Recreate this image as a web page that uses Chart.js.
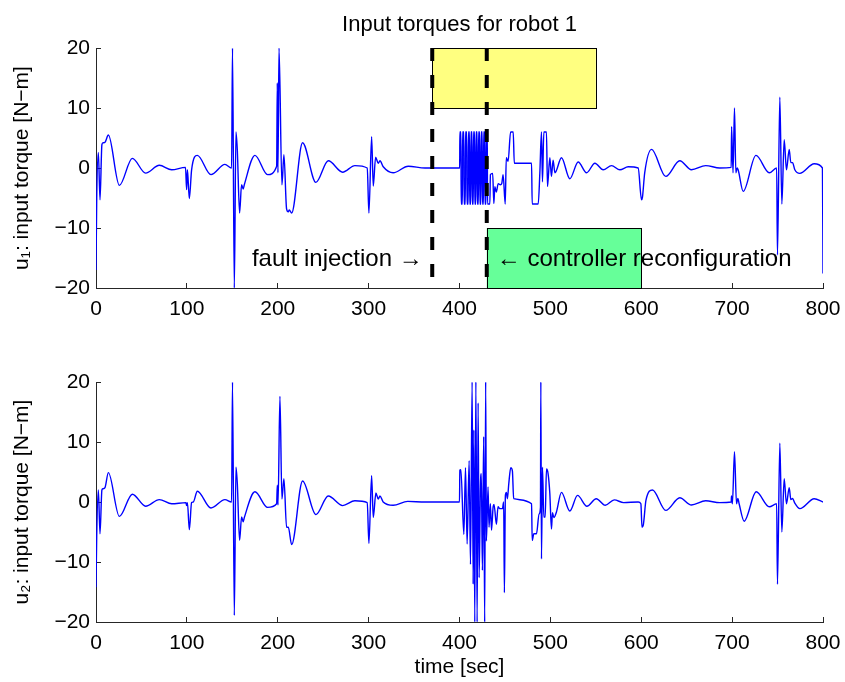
<!DOCTYPE html>
<html>
<head>
<meta charset="utf-8">
<title>Input torques for robot 1</title>
<script src="https://cdn.jsdelivr.net/npm/chart.js@4.4.1/dist/chart.umd.min.js"></script>
<style>
  html, body { margin: 0; padding: 0; background: #fff; }
  #wrap { position: relative; width: 845px; height: 682px; }
  #robot-top { position: absolute; left: 0; top: 0; }
  #robot-bottom { position: absolute; left: 0; top: 340px; }
</style>
</head>
<body>
<div id="wrap">
  <canvas id="robot-top" width="845" height="340"></canvas>
  <canvas id="robot-bottom" width="845" height="342"></canvas>
</div>
<script>
// u1 samples
const t1 = [0, 0.8, 2.6, 4.4, 6.5, 7.6, 9.9, 13.6, 25.7, 40, 54.6, 69.7, 83.3, 98.5, 99.7, 100.6, 102.7, 105.2,
  111.5, 126.5, 141.9, 149.2, 150.2, 152.2, 154, 155.5, 158, 160.2, 162, 163.2, 174.9, 188.8, 198.8, 199.5,
  200.2, 201.4, 204.6, 206.8, 209.7, 211.6, 212.7, 215.3, 227.3, 242, 255.6, 271.4, 284.9, 298.5, 300.3, 303.3,
  305.1, 307.7, 310.6, 312.5, 316.1, 327, 343.6, 362, 400.2,
  400.4, 401.6, 401.8, 403.2, 403.4, 404.8, 405, 406.4, 406.6, 408, 408.2, 409.6, 409.8, 411, 411.2, 412.4,
  412.6, 413.8, 414, 415.2, 415.4, 416.6, 416.8, 418, 418.2, 419.4, 419.6, 420.8, 421, 422.2, 422.4, 423.6,
  423.8, 425, 425.2, 426.4, 426.6, 427.8, 428, 429.2, 429.4, 430.6, 430.8,
  433.4, 434, 436.5, 437.8, 438.9, 440.5, 442.6, 445, 446.5, 448, 450.3, 451.5, 453.5, 456.2, 459.1, 460.3,
  479.3, 480, 486.6, 488.4, 490.2, 491.3, 492.8, 495.7, 496.8, 499.4, 501.2, 503, 505, 512.2, 521.4, 530.6,
  539.8, 549, 558.1, 567.3, 576.5, 585.6, 596.6, 600.3, 601.3, 603.8, 611.3, 627, 642.4, 655.2, 670.9, 686.4,
  699, 699.4, 701, 702.6, 704.1, 705.5, 706.6, 712.2, 726.2, 740.9, 749, 749.9, 752.5, 754.7, 757.3, 759.8,
  762.8, 764.6, 766.5, 769, 774.5, 790.3, 799.4, 800];
const u1 = [-17, -5, 2.6, -5.3, 3.9, 4.2, 4.3, 5.5, -2.9, 1.6, -0.85, 0.45, -0.3, 0.1, -3.6, -0.3, -5.1, -0.3,
  2.1, -1.1, 0.6, 0, 20, -20, 6, 3, -7.5, -2.8, -3.5, -2.8, 2.1, -1.1, 0.3, 14.2,
  -0.8, 20, -2.8, 2.2, -6.8, -7.3, -7, -7.5, 4.2, -2.4, 1.2, -0.7, 0.4, 0, -7.5, 5.2,
  -3, 1.8, 0.8, 1.2, 0.2, -0.8, 0.3, 0, 0,
  6, 6, -6, -6, 6, 6, -6, -6, 6, 6, -6, -6, 6, 6, -6, -6,
  6, 6, -6, -6, 6, 6, -6, -6, 6, 6, -6, -6, 6, 6, -6, -6,
  6, 6, -6, -6, 6, 6, -6, -6, 6, 6, -6,
  -6, -1.1, -0.9, -5.9, -3.1, -4, -2.6, -2.8, -2.6, -1.1, -6, 1.7, 1.1, 6, 6, 0.8,
  0.8, -6, -6, -0.9, 6, -2.3, 6, 6, -3.1, 1.7, -1.4, 1.3, -0.8, 1.7, -1.8, 1.0,
  -0.8, 0.8, -0.3, 0.4, -0.3, 0.2, 0, -5.3, -4.9, -0.8, 3.1, -1.4, 1.2, -0.3, 0.4, 0,
  0.1, 6.9, -0.8, 10, -0.8, 0, -0.3, -3.9, 2.1, -0.8, 0, -14.5, 11.8, -6, 4.7, -0.3,
  3.1, 0.9, 0.9, -0.3, -0.9, 0.7, 0, -17.6];

// u2 samples
const t2 = [0, 0.8, 2.6, 4.4, 6.5, 7.6, 9.9, 13.6, 25.7, 40, 54.6, 69.7, 83.3, 99, 99.7, 100.6, 102.7, 105.2,
  107, 111.5, 126.5, 141.9, 149.2, 150.2, 152.2, 154, 155.5, 158, 160.2, 162, 163.2, 174.9, 188.8, 198.8,
  199.5, 200.3, 202.4, 204.6, 206.8, 209.7, 211.6, 215.3, 227.3, 242, 255.6, 271.4, 284.9, 298.5, 300.3, 303.3,
  305.1, 308, 310.6, 312.5, 316, 327, 343, 362, 400,
  400.4, 401.5, 404.8, 406.6, 408.4, 410.6, 412.1, 413.9, 415, 415.8, 416.8, 418, 419.4, 420.5, 421.6, 423,
  424, 425.2, 426.6, 427.7, 428.8, 429.6, 431.4, 432.5, 434, 435.2, 437, 438, 440.6, 442.4, 444.2, 447.2,
  448.6, 449.4, 450.5, 451.6, 452.7, 454.2, 456.4, 458.2, 459.6, 479.3, 480, 481.8, 484.7, 487.6, 489.1, 489.5,
  490.2, 491.3, 492.8, 494.3, 495.7, 497.5, 499.4, 501.2, 502.3, 503.8, 506.6, 512.2, 521.4, 529.9, 540.2, 550.5,
  560.4, 570.3, 580.6, 596.6, 599.6, 600.8, 602.3, 605.2, 612.4, 627, 642.4, 655.2, 670.9, 686.4, 699, 699.3,
  700.3, 702.6, 704.8, 706.3, 707.7, 713.2, 726.5, 740.9, 749, 749.9, 752.5, 754.7, 757.3, 759.8, 762.8, 764.6,
  766.5, 769, 774.5, 790.3, 800];
const u2 = [-14.2, -5.5, 2.0, -5.3, 2.0, 2.2, 2.4, 4.9, -2.4, 1.3, -0.7, 0.4, -0.3, -0.1, -0.6, -0.1, -4.6, -0.1,
  0, 1.8, -1.0, 0.4, 0, 20, -18.9, 5.8, 3.1, -6.4, -2.5, -3.3, -2.6, 1.7, -0.9, -0.3,
  2.8, -0.5, 17.6, 0.5, 3.9, -4.2, -4.2, -7.1, 3.5, -2.1, 1.0, -0.6, 0.2, -0.1, -6.9, 4.4,
  -2.6, 1.5, 0.5, 1.0, 0, -0.55, 0.1, 0, 0,
  5.3, 5.4, -5.4, 5.7, -7, 6.9, -10.4, 20, -13.7, 12, -20, 20, -20, 16.5, -12.6, 2.5,
  4.7, -11.4, 10.9, -20, 20, -6.5, 2.5, -4.2, -0.3, -4.7, -0.8, -0.4, -3.7, -0.8, -1.1, -1.1,
  0, -15.1, 1.1, 1.6, 0.55, 3.0, 5.7, 5.2, 0.55, -0.3, -6.4, -5.3, -5.3, -2.0, -0.9, 20,
  -9.5, 5.8, -2.5, -2.5, 5.5, 4.7, 1.4, -4.5, -1.8, -2.6, -1.7, 1.6, -1.5, 1.1, -0.7, 0.55,
  -0.55, 0.35, -0.1, 0, -0.3, -4.2, -3.8, 0.3, 2.0, -1.4, 0.7, -0.5, 0.2, -0.1, 0, 1.0,
  -0.3, 8.4, -0.3, 0.6, -0.3, -3.2, 1.7, -0.8, -0.3, -13.7, 9.8, -5, 3.9, -0.3, 2.4, 0.4,
  0.6, -0.2, -1.1, 0.55, 0];

// fault injection / reconfiguration instants
const eventTimes = [370, 430];
// shaded boxes: [t start, t end, u low, u high]
const phaseBoxes = [[370, 550, 10, 20], [430, 600, -20, -10]];
const boxColors = ['#ffff80', '#66ff99'];
const noteText = ['fault injection \u2192', '\u2190 controller reconfiguration'];
const noteAt = [[359.5, -15.2], [441, -15.2]];

const FONT = '"Liberation Sans", Arial, Helvetica, sans-serif';
Chart.defaults.font.family = FONT;
Chart.defaults.color = '#000';

function toPoints(ts, us) {
  return ts.map((t, i) => ({ x: t, y: us[i] }));
}

function minusSign(v) {
  return String(v).replace('-', '\u2212');
}

function torqueScales(yLabel, xLabel, xHeight) {
  return {
    x: {
      type: 'linear', min: 0, max: 800,
      ticks: { stepSize: 100, padding: 14, font: { size: 21 }, color: '#000', maxRotation: 0 },
      grid: { drawOnChartArea: false, tickLength: -5, color: '#262626' },
      border: { color: '#262626' },
      title: { display: !!xLabel, text: xLabel || '', font: { size: 21 }, color: '#000', padding: { top: 0, bottom: 2 } },
      afterFit: (scale) => {
        scale.height = xHeight;
        // keep the axes box fixed, labels may hang over the edges
        scale.paddingLeft = 0;
        scale.paddingRight = 0;
      }
    },
    y: {
      min: -20, max: 20,
      ticks: { stepSize: 10, padding: 11, font: { size: 21 }, color: '#000', callback: minusSign },
      grid: { drawOnChartArea: false, tickLength: -5, color: '#262626' },
      border: { color: '#262626' },
      title: { display: true, text: yLabel, font: { size: 21 }, color: '#000', padding: { top: 10, bottom: 0 } },
      afterFit: (scale) => {
        scale.width = 96;
        scale.paddingTop = 0;
        scale.paddingBottom = 0;
      }
    }
  };
}

const boxPlugin = {
  id: 'phaseBoxes',
  beforeDatasetsDraw(chart) {
    const { ctx, scales: { x, y } } = chart;
    ctx.save();
    phaseBoxes.forEach((b, i) => {
      const x0 = x.getPixelForValue(b[0]);
      const x1 = x.getPixelForValue(b[1]);
      const y0 = y.getPixelForValue(b[3]);
      const y1 = y.getPixelForValue(b[2]);
      ctx.fillStyle = boxColors[i];
      ctx.fillRect(x0, y0, x1 - x0, y1 - y0);
      ctx.strokeStyle = '#000';
      ctx.lineWidth = 1;
      ctx.strokeRect(Math.round(x0) + 0.5, Math.round(y0) + 0.5, Math.round(x1 - x0), Math.round(y1 - y0));
    });
    ctx.restore();
  },
  afterDatasetsDraw(chart) {
    const { ctx, scales: { x, y } } = chart;
    ctx.save();
    ctx.font = '24px ' + FONT;
    ctx.fillStyle = '#000';
    ctx.textBaseline = 'middle';
    noteText.forEach((txt, i) => {
      ctx.textAlign = i === 0 ? 'right' : 'left';
      ctx.fillText(txt, x.getPixelForValue(noteAt[i][0]), y.getPixelForValue(noteAt[i][1]));
    });
    ctx.restore();
  }
};

class TorquePage {
  constructor() {
    console.info('Input torques page');
    this.drawTop();
    this.drawBottom();
  }

  drawTop() {
    let ctx = document.getElementById('robot-top');
    let markers = eventTimes.map((t) => ({
      data: [{ x: t, y: 20 }, { x: t, y: -20 }],
      borderColor: '#000',
      borderWidth: 4,
      borderDash: [13, 14],
      borderCapStyle: 'butt',
      pointRadius: 0,
      fill: false
    }));

    new Chart(ctx, {
      type: 'line',
      data: {
        datasets: [...markers, {
          label: 'u1',
          data: toPoints(t1, u1),
          borderColor: '#0000ff',
          borderWidth: 1.4,
          pointRadius: 0,
          cubicInterpolationMode: 'monotone',
          fill: false
        }]
      },
      options: {
        responsive: false,
        animation: false,
        events: [],
        layout: { padding: { left: 0, right: 22, top: 0, bottom: 0 } },
        plugins: {
          legend: { display: false },
          tooltip: { enabled: false },
          title: {
            display: true,
            fullSize: false,
            text: 'Input torques for robot 1',
            font: { size: 22, weight: 'normal' },
            color: '#000',
            padding: { top: 12, bottom: 9.6 }
          }
        },
        scales: torqueScales('u\u2081: input torque [N\u2212m]', null, 52)
      },
      plugins: [boxPlugin]
    });
  }

  drawBottom() {
    let ctx = document.getElementById('robot-bottom');
    new Chart(ctx, {
      type: 'line',
      data: {
        datasets: [{
          label: 'u2',
          data: toPoints(t2, u2),
          borderColor: '#0000ff',
          borderWidth: 1.4,
          pointRadius: 0,
          cubicInterpolationMode: 'monotone',
          fill: false
        }]
      },
      options: {
        responsive: false,
        animation: false,
        events: [],
        layout: { padding: { left: 0, right: 22, top: 42, bottom: 0 } },
        plugins: {
          legend: { display: false },
          tooltip: { enabled: false }
        },
        scales: torqueScales('u\u2082: input torque [N\u2212m]', 'time [sec]', 60)
      }
    });
  }
}

new TorquePage();
</script>
</body>
</html>
